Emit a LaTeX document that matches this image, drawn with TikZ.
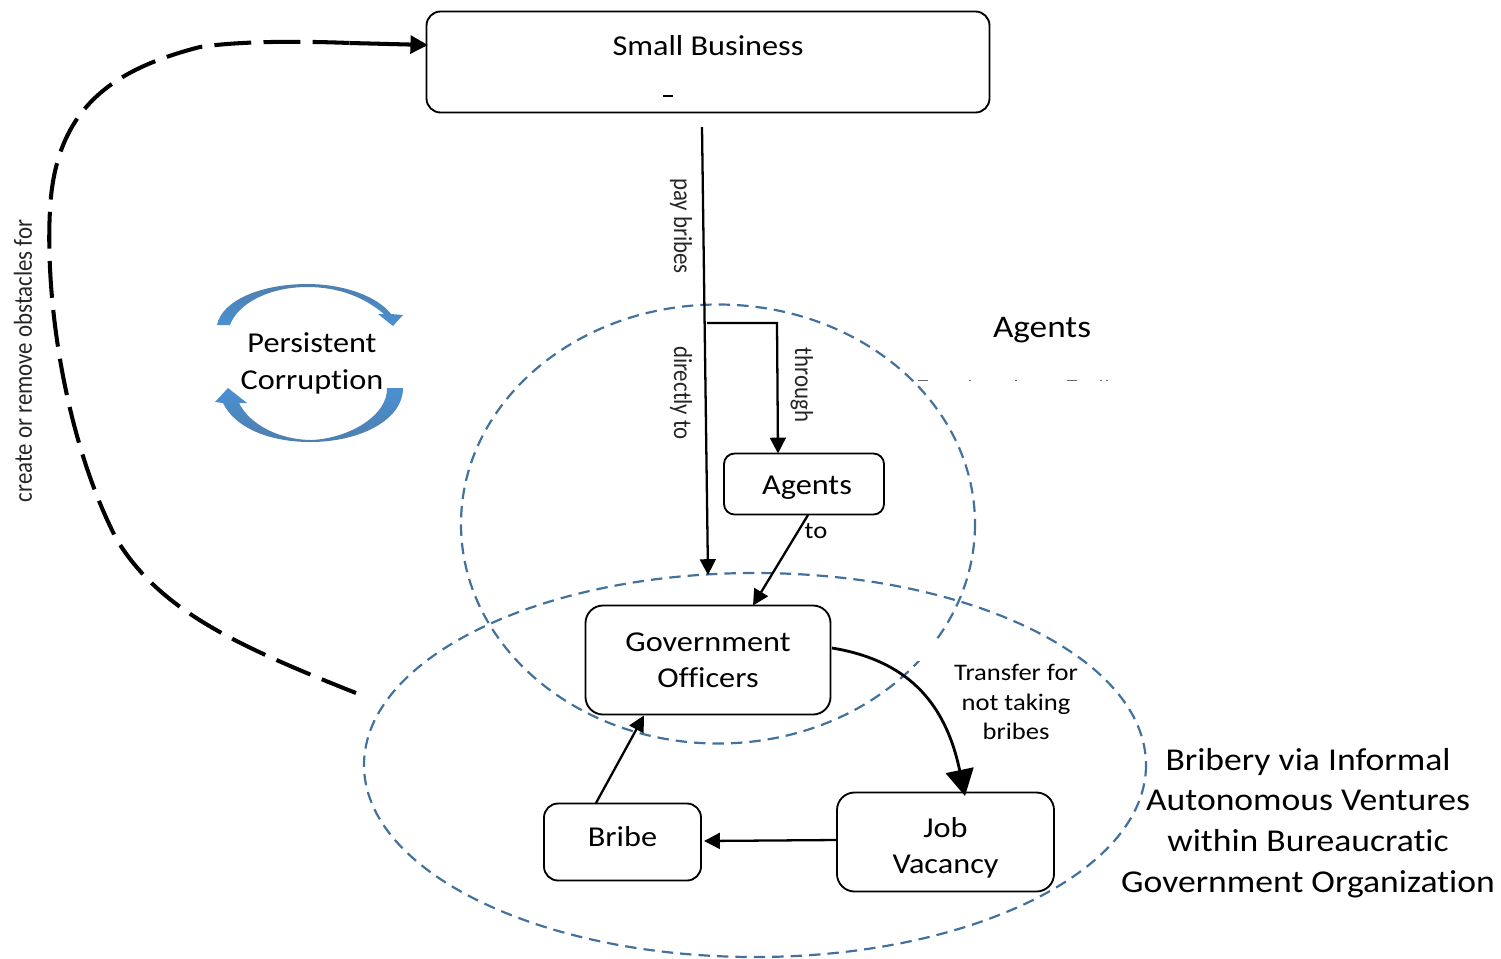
\documentclass[tikz,border=0pt]{standalone}
\usepackage{fontspec}
\setmainfont{Carlito}[FakeStretch=1.12,Ligatures=NoCommon]
\newfontfamily\narrowf{Carlito}[FakeStretch=0.88,Ligatures=NoCommon]
\usetikzlibrary{arrows.meta}
\definecolor{ell}{HTML}{41719C}
\definecolor{bluea}{HTML}{4A90D2}
\definecolor{blueb}{HTML}{4F7FAE}
\newcommand{\fsz}[2]{\fontsize{#1}{#2}\selectfont}
\tikzset{
  x=0.02cm,y=-0.02cm,
  boxn/.style={draw=black,line width=1.05pt,rounded corners=8pt,fill=white,align=center,inner sep=0pt},
  ellip/.style={draw=ell,line width=1.25pt,dash pattern=on 6.5pt off 4pt},
  conn/.style={draw=black,line width=1.3pt,-{Triangle[length=9pt,width=9pt]}},
  lbl/.style={inner sep=0pt,align=center,font=\fsz{16.4}{20.5}},
  small/.style={inner sep=0pt,align=center,font=\fsz{13.5}{17}},
  rot/.style={inner sep=0pt,font=\narrowf\fsz{14.8}{17},text=black!85},
}
\begin{document}
\begin{tikzpicture}
\useasboundingbox (0,0) rectangle (1501,958);
% ellipses
\draw[ellip] (718,524) ellipse [x radius=257,y radius=219.5];
\draw[ellip] (755,765) ellipse [x radius=391,y radius=192];
% gap in the upper ellipse
\fill[white] (917,643) rectangle (935,661);
% boxes
\node[boxn,minimum width=563*0.02cm,minimum height=101*0.02cm] (sb) at (708,62) {};
\node[lbl] (sbt) at (708,46) {Small Business};
\node[boxn,minimum width=160*0.02cm,minimum height=61*0.02cm,rounded corners=6pt] (ag) at (804,484) {};
\node[lbl] (agt) at (807,488) {Agents};
\node[boxn,minimum width=245*0.02cm,minimum height=109*0.02cm,rounded corners=10pt] (go) at (708,660) {};
\node[lbl] (got) at (708,660) {Government\\Officers};
\node[boxn,minimum width=157*0.02cm,minimum height=77*0.02cm] (br) at (622.5,842) {};
\node[lbl] (brt) at (622.5,837) {Bribe};
\node[boxn,minimum width=217*0.02cm,minimum height=99*0.02cm,rounded corners=10pt] (jv) at (945.5,842) {};
\node[lbl] (jvt) at (945.5,848) {Job\\Vacancy};
% connectors
\coordinate (a1) at (702,127);
\coordinate (a2) at (708,575);
\coordinate (b1) at (707,323);
\coordinate (b2) at (777,323);
\coordinate (b3) at (778,453.5);
\draw[conn] (a1) -- (a2);
\draw[conn] (b1) -- (b2) -- (b3);
\coordinate (c1) at (808,515);
\coordinate (c2) at (753,605.5);
\draw[conn] (c1) -- (c2);
\coordinate (d1) at (596,803);
\coordinate (d2) at (644,715.5);
\draw[conn] (d1) -- (d2);
\coordinate (e1) at (836.5,840);
\coordinate (e2) at (704,841);
\draw[conn] (e1) -- (e2);
\coordinate (f1) at (832,648);
\coordinate (f2) at (965,796);
\draw[draw=black,line width=1.6pt,-{Triangle[length=15pt,width=16pt]}] (f1) .. controls (905,660) and (945,700) .. (f2);
\coordinate (g1) at (356,693);
\coordinate (g2) at (428,45);
\coordinate (g3) at (350,43);
\draw[black,line width=2.3pt,dash pattern=on 21pt off 7pt]
  (g1) .. controls (235,645) and (160,610) .. (117,540)
  .. controls (65,440) and (45,300) .. (50,210)
  .. controls (55,110) and (110,70) .. (200,47)
  .. controls (240,41) and (300,41) .. (g3);
\draw[black,line width=2.3pt,-{Triangle[length=10pt,width=10pt]}] (g3) -- (g2);
% persistent corruption arrows
\shade[left color=blueb,right color=bluea,shading angle=0]
  (217,325) .. controls (222,300) and (262,284) .. (307,284)
  .. controls (345,284) and (378,297) .. (391,314) -- (403,315) -- (393,326) -- (378,314) -- (384,314)
  .. controls (365,298) and (340,287) .. (307,287)
  .. controls (270,287) and (238,303) .. (230,325) -- cycle;
\shade[left color=bluea,right color=blueb,shading angle=0]
  (403,388) .. controls (403,420) and (360,442) .. (310,442)
  .. controls (270,442) and (235,428) .. (223,403) -- (215,402) -- (228,388) -- (247,403) -- (239,403)
  .. controls (250,425) and (280,440) .. (312,440)
  .. controls (350,438) and (388,415) .. (387,388) -- cycle;
\node[lbl,font=\fsz{16.4}{21}] (pc) at (312,363.5) {Persistent\\Corruption};
% labels
\node[lbl,font=\fsz{17.9}{20}] (agl) at (1042,330) {Agents};
\node[lbl,font=\fsz{18.1}{23.2}] (bl) at (1308,823) {Bribery via Informal\\Autonomous Ventures\\within Bureaucratic\\Government Organization};
\node[small] (tr) at (1016,702) {Transfer for\\not taking\\bribes};
\node[small] (to) at (816,531) {to};
\node[rot,rotate=90] (ob) at (23,361) {create or remove obstacles for};
\node[rot,rotate=-90] (pb) at (681,226) {pay bribes};
\node[rot,rotate=-90] (di) at (681,393) {directly to};
\node[rot,rotate=-90] (th) at (802,385) {through};
% clipped residue of hidden text
\draw[black,line width=0.6pt] (663,96) -- (673,96);
\draw[black!60,line width=0.5pt] (918,380) -- (928,380) (969,380) -- (971,380) (1015,380) -- (1017,380) (1067,380) -- (1077,380) (1100,380) -- (1102,380) (1106,380) -- (1108,380);
\end{tikzpicture}
\end{document}
